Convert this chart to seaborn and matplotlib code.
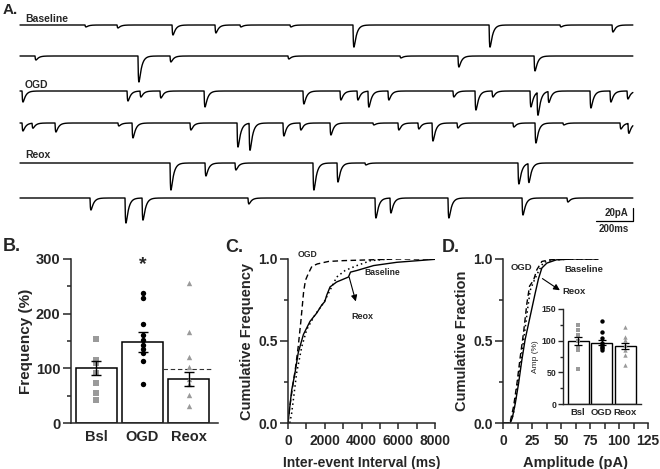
import numpy as np
import pandas as pd
import matplotlib
matplotlib.use("Agg")
import matplotlib.pyplot as plt
import seaborn as sns

sns.set_style("ticks")
plt.rcParams["font.family"] = ["Liberation Sans", "DejaVu Sans"]
plt.rcParams["font.weight"] = "bold"
plt.rcParams["axes.labelweight"] = "bold"
plt.rcParams["axes.linewidth"] = 1.1

# ---------------- Panel A: event lists (time in ms, amplitude in pA) ----------------
trace_names = ["Baseline", "", "OGD", "", "Reox", ""]
tr1_t = [351, 524, 821, 1053, 1188, 1458, 1798, 2533, 2916, 3197]
tr1_a = [3, 4.6, 15.4, 12.3, 3, 3, 34, 34, 3, 10.8]
tr2_t = [81, 637, 810, 1447, 2052, 2365, 2776]
tr2_a = [6.2, 40, 9.2, 4.6, 3, 17, 23]
tr3_t = [11, 578, 648, 756, 994, 1528, 1728, 1820, 1879, 1987, 2338, 2457, 2549,
         2754, 2792, 2851, 3078, 3186, 3278]
tr3_a = [17, 15.4, 9.2, 10.8, 24.6, 20, 13.9, 13.9, 24.6, 13.9, 9.2, 29.3, 9.2,
         24.6, 35.4, 17, 26.2, 17, 12.3]
tr4_t = [11, 65, 189, 529, 605, 918, 1172, 1237, 1420, 1512, 1674, 1906, 2041,
         2149, 2225, 2360, 2662, 2781, 2932, 3240, 3283]
tr4_a = [12.3, 7.7, 13.9, 4.6, 23, 10.8, 37, 41.6, 20, 10.8, 18.5, 3, 10.8,
         9.2, 27.7, 7.7, 6.2, 30.8, 3, 9.2, 15.4]
tr5_t = [810, 999, 1161, 1582, 1712, 1863, 2689, 2743]
tr5_a = [41.6, 20, 10.8, 41.6, 29.3, 3, 32.3, 29.3]
tr6_t = [378, 567, 659, 1231, 1917, 1998, 2311, 2711, 2954]
tr6_a = [18.5, 38.5, 34, 9.2, 30.8, 23, 30.8, 26.2, 6.2]
trace_len_ms = 3310
scale_ms = 200
scale_pa = 20

# ---------------- Panel B ----------------
cats = ["Bsl", "OGD", "Reox"]
freq_mean = [100, 148, 80]
freq_sem = [13, 18, 13]
freq_bsl = [153, 116, 110, 91, 74, 54, 42]
freq_ogd = [237, 228, 182, 161, 152, 143, 136, 128, 114, 71]
freq_reox = [256, 167, 120, 103, 80, 72, 51, 31]

# ---------------- Panel C ----------------
ogd_iei_ms = [0, 100, 250, 400, 550, 700, 850, 950, 1100, 1300, 1600, 2200, 3000, 4500, 6000, 8000]
ogd_iei_cf = [0, 0.1, 0.22, 0.33, 0.46, 0.62, 0.8, 0.87, 0.91, 0.955, 0.97, 0.985, 0.99, 0.995, 1.0, 1.0]
base_iei_ms = [0, 100, 200, 380, 560, 840, 1200, 1560, 1840, 2000, 2110, 2290, 2650, 3290, 3400, 3750, 4660, 5930, 8000]
base_iei_cf = [0, 0.1, 0.2, 0.305, 0.43, 0.54, 0.62, 0.67, 0.72, 0.74, 0.78, 0.83, 0.86, 0.89, 0.92, 0.93, 0.96, 0.98, 0.998]
reox_iei_ms = [100, 200, 290, 470, 750, 1020, 1470, 1930, 2290, 2650, 3110, 3750, 4500, 5500]
reox_iei_cf = [0, 0.06, 0.14, 0.305, 0.465, 0.57, 0.66, 0.73, 0.81, 0.89, 0.93, 0.96, 0.99, 1.0]

# ---------------- Panel D ----------------
base_amp_pa = [0, 6, 8, 10.6, 13.4, 16.3, 19.1, 23.4, 27.7, 30.6, 33.5, 37.8, 46, 60, 82]
base_amp_cf = [0, 0, 0.03, 0.12, 0.24, 0.386, 0.51, 0.65, 0.79, 0.88, 0.945, 0.975, 0.995, 1.0, 1.0]
ogd_amp_pa = [0, 6, 9.1, 12, 14.9, 17.7, 20.6, 22.9, 26.3, 29.2, 33.5, 40, 60, 82]
ogd_amp_cf = [0, 0, 0.1, 0.24, 0.405, 0.55, 0.73, 0.835, 0.87, 0.935, 0.985, 0.995, 1.0, 1.0]
reox_amp_pa = [0, 6.5, 9.1, 12.6, 15.5, 18.6, 21.5, 23.5, 26.3, 30.6, 34.9, 45, 60, 82]
reox_amp_cf = [0, 0, 0.06, 0.24, 0.385, 0.55, 0.71, 0.81, 0.86, 0.925, 0.98, 0.995, 1.0, 1.0]

amp_mean = [100, 97, 92]
amp_sem = [6.5, 4, 5]
amp_bsl = [125, 117, 109, 99, 90, 85, 56]
amp_ogd = [131, 114, 104, 97, 93, 90, 88, 85]
amp_reox = [122, 106, 101, 93, 86, 77, 61]

# tick labels
freq_ticks = [0, 100, 200, 300]
cf_ticks = [0, 0.5, 1.0]
cf_ticklabels = ["0.0", "0.5", "1.0"]
iei_ticks = [0, 2000, 4000, 6000, 8000]
amp_ticks = [0, 25, 50, 75, 100, 125]
amp_pct_ticks = [0, 50, 100, 150]

GRAY = "#9a9a9a"
W, H = 660, 469
fig = plt.figure(figsize=(6.6, 4.69), dpi=100)


def rect(l, t, r, b):
    return [l / W, 1 - b / H, (r - l) / W, (b - t) / H]


def ftext(x, y, s, **kw):
    fig.text(x / W, 1 - y / H, s, **kw)


# ================= Panel A =================
MS_PX = 5.4     # ms per pixel
PA_PX = 1.54    # pA per pixel
axA = fig.add_axes([0, 1 - 240 / H, 1, 240 / H])
axA.set_xlim(-20 * MS_PX, (W - 20) * MS_PX)
axA.set_ylim(-240 * PA_PX, 0)
axA.axis("off")

t = np.arange(0, trace_len_ms, 0.5)
tau_r, tau_d = 2.5, 14.0
tpk = np.log(tau_d / tau_r) * tau_d * tau_r / (tau_d - tau_r)
knorm = np.exp(-tpk / tau_d) - np.exp(-tpk / tau_r)

traces = [(tr1_t, tr1_a), (tr2_t, tr2_a), (tr3_t, tr3_a),
          (tr4_t, tr4_a), (tr5_t, tr5_a), (tr6_t, tr6_a)]
base_px = [25, 56, 91, 123, 163, 198]
for (ts, amps), bpx in zip(traces, base_px):
    y = np.zeros_like(t)
    for t0, a in zip(ts, amps):
        d = t - t0
        m = d >= 0
        y[m] += a * (np.exp(-d[m] / tau_d) - np.exp(-d[m] / tau_r)) / knorm
    axA.plot(t, -bpx * PA_PX - y, color="black", lw=1.0)

# scale bar
sb_y = -221 * PA_PX
axA.plot([trace_len_ms - scale_ms, trace_len_ms, trace_len_ms],
         [sb_y, sb_y, sb_y + scale_pa], color="black", lw=0.9)
ftext(628, 213, "20pA", ha="right", va="center", fontsize=7)
ftext(614, 229, "200ms", ha="center", va="center", fontsize=7)

ftext(25, 19, "Baseline", ha="left", va="center", fontsize=7.5)
ftext(25, 85, "OGD", ha="left", va="center", fontsize=7.5)
ftext(25, 155, "Reox", ha="left", va="center", fontsize=7.5)

ftext(3, 10, "A.", ha="left", va="center", fontsize=11)
ftext(3, 246, "B.", ha="left", va="center", fontsize=13)
ftext(225, 247, "C.", ha="left", va="center", fontsize=13)
ftext(442, 247, "D.", ha="left", va="center", fontsize=13)

TICK_FS = 10


def style_y(ax, major, labels, minor, fs=TICK_FS):
    ax.set_yticks(major, labels, fontsize=fs, fontweight="bold")
    ax.set_yticks(minor, minor=True)
    ax.tick_params(axis="y", which="major", length=5.5, width=1.1, pad=2)
    ax.tick_params(axis="y", which="minor", length=3, width=1.1)


# ================= Panel B =================
axB = fig.add_axes(rect(71, 259, 218, 423))
sns.barplot(x=cats, y=freq_mean, ax=axB, color="white", saturation=1,
            edgecolor="black", linewidth=1.1, width=0.89, errorbar=None)
for i, (pts, mk, col) in enumerate([(freq_bsl, "s", GRAY), (freq_ogd, "o", "black"),
                                    (freq_reox, "^", GRAY)]):
    sns.scatterplot(x=[i] * len(pts), y=pts, marker=mk, color=col, s=15,
                    linewidth=0, ax=axB, zorder=3)
axB.errorbar([0, 1, 2], freq_mean, yerr=freq_sem, fmt="none", ecolor="black",
             elinewidth=1, capsize=3.5, capthick=1, zorder=4)
axB.plot([1.45, 2.53], [98, 98], ls=(0, (4, 2.5)), color="#333333", lw=0.8)
axB.text(1, 290, "*", ha="center", va="center", fontsize=14)
axB.set_xlim(-0.554, 2.64)
axB.set_ylim(0, 300)
style_y(axB, freq_ticks, [str(v) for v in freq_ticks], [50, 150, 250], fs=10.5)
axB.set_xticks([0, 1, 2], cats, fontsize=10.5, fontweight="bold")
axB.tick_params(axis="x", length=0, pad=5)
axB.set_xlabel("")
axB.set_ylabel("Frequency (%)", fontsize=11, labelpad=2)
sns.despine(ax=axB)

# ================= Panel C =================
axC = fig.add_axes(rect(288, 259, 435, 423))
sns.lineplot(x=ogd_iei_ms, y=ogd_iei_cf, ax=axC, color="black", lw=1.0,
             linestyle=(0, (4, 2.5)), sort=False, estimator=None)
sns.lineplot(x=base_iei_ms, y=base_iei_cf, ax=axC, color="black", lw=1.0,
             sort=False, estimator=None)
sns.lineplot(x=reox_iei_ms, y=reox_iei_cf, ax=axC, color="black", lw=1.1,
             linestyle=(0, (1, 2)), sort=False, estimator=None)
axC.set_xlim(0, 8000)
axC.set_ylim(0, 1)
axC.set_xticks(iei_ticks, [str(v) for v in iei_ticks], fontsize=TICK_FS, fontweight="bold")
axC.set_xticks([1000, 3000, 5000, 7000], minor=True)
axC.tick_params(axis="x", which="both", length=4, width=1.1, pad=4)
style_y(axC, cf_ticks, cf_ticklabels, [0.25, 0.75])
axC.set_xlabel("Inter-event Interval (ms)", fontsize=10, labelpad=6)
axC.set_ylabel("Cumulative Frequency", fontsize=10.5, labelpad=3)
axC.text(1040, 1.025, "OGD", ha="center", va="center", fontsize=6.2, clip_on=False)
axC.text(5130, 0.915, "Baseline", ha="center", va="center", fontsize=6.2)
axC.text(4040, 0.65, "Reox", ha="center", va="center", fontsize=6.5)
axC.annotate("", xy=(3730, 0.725), xytext=(3290, 0.905),
             arrowprops=dict(arrowstyle="-|>", color="black", lw=0.8, mutation_scale=9))
sns.despine(ax=axC)

# ================= Panel D =================
axD = fig.add_axes(rect(503, 259, 648, 423))
sns.lineplot(x=base_amp_pa, y=base_amp_cf, ax=axD, color="black", lw=1.0,
             sort=False, estimator=None)
sns.lineplot(x=ogd_amp_pa, y=ogd_amp_cf, ax=axD, color="black", lw=1.0,
             linestyle=(0, (4, 2.5)), sort=False, estimator=None)
sns.lineplot(x=reox_amp_pa, y=reox_amp_cf, ax=axD, color="black", lw=1.1,
             linestyle=(0, (1, 2)), sort=False, estimator=None)
axD.set_xlim(0, 125)
axD.set_ylim(0, 1)
axD.set_xticks(amp_ticks, [str(v) for v in amp_ticks], fontsize=TICK_FS, fontweight="bold")
axD.set_xticks([12.5, 37.5, 62.5, 87.5, 112.5], minor=True)
axD.tick_params(axis="x", which="both", length=4, width=1.1, pad=4)
style_y(axD, cf_ticks, cf_ticklabels, [0.25, 0.75])
axD.set_xlabel("Amplitude (pA)", fontsize=10.5, labelpad=6)
axD.set_ylabel("Cumulative Fraction", fontsize=10.5, labelpad=3)
axD.text(15.7, 0.947, "OGD", ha="center", va="center", fontsize=6.8)
axD.text(70, 0.935, "Baseline", ha="center", va="center", fontsize=6.8)
axD.text(51.5, 0.80, "Reox", ha="left", va="center", fontsize=6.8)
axD.annotate("", xy=(51, 0.80), xytext=(32, 0.89),
             arrowprops=dict(arrowstyle="-|>", color="black", lw=0.8, mutation_scale=9))
sns.despine(ax=axD)

# ---- inset ----
axI = fig.add_axes(rect(563, 309, 641, 404))
axI.patch.set_alpha(0)
sns.barplot(x=cats, y=amp_mean, ax=axI, color="white", saturation=1,
            edgecolor="black", linewidth=1.0, width=0.89, errorbar=None)
for i, (pts, mk, col) in enumerate([(amp_bsl, "s", GRAY), (amp_ogd, "o", "black"),
                                    (amp_reox, "^", GRAY)]):
    sns.scatterplot(x=[i] * len(pts), y=pts, marker=mk, color=col, s=10,
                    linewidth=0, ax=axI, zorder=3)
axI.errorbar([0, 1, 2], amp_mean, yerr=amp_sem, fmt="none", ecolor="black",
             elinewidth=0.9, capsize=3, capthick=0.9, zorder=4)
axI.set_xlim(-0.64, 2.66)
axI.set_ylim(0, 150)
axI.set_yticks(amp_pct_ticks, [str(v) for v in amp_pct_ticks], fontsize=6.3, fontweight="bold")
axI.set_yticks([25, 75, 125], minor=True)
axI.set_xticks([0, 1, 2], cats, fontsize=6.8, fontweight="bold")
axI.tick_params(axis="y", which="major", length=3.5, width=1.0, pad=1.5)
axI.tick_params(axis="y", which="minor", length=2, width=1.0)
axI.tick_params(axis="x", length=0, pad=3)
axI.set_xlabel("")
axI.set_ylabel("Amp (%)", fontsize=6, fontweight="normal", labelpad=2)
for sp in ["left", "bottom"]:
    axI.spines[sp].set_linewidth(1.0)
sns.despine(ax=axI)

fig.savefig("out.png", dpi=100)
